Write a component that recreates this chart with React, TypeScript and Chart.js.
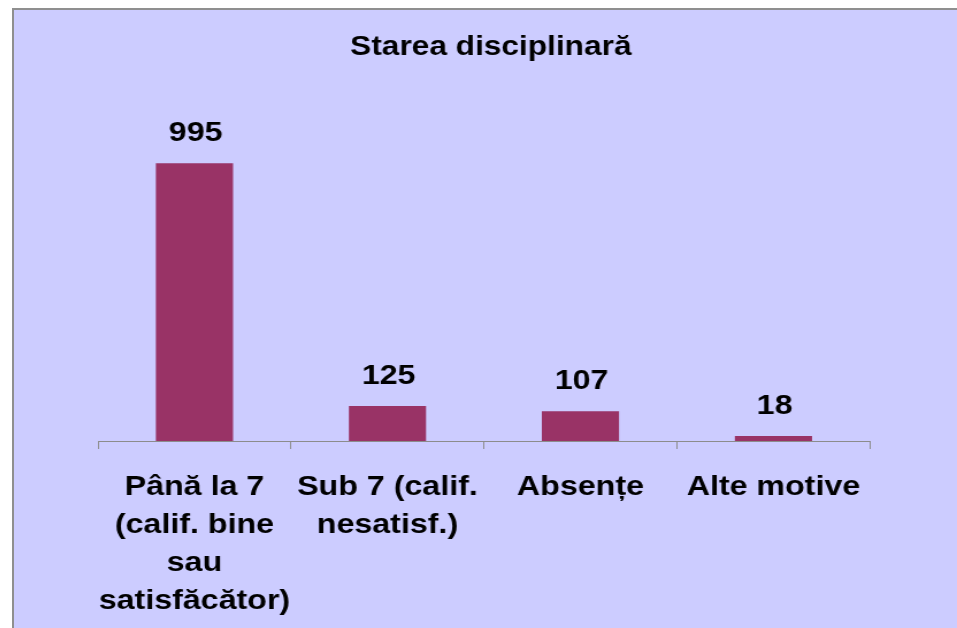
import React, { useEffect, useRef } from "react";
import { Chart, registerables } from "chart.js";

Chart.register(...registerables);

const TITLE = "Starea disciplinară";
const categories: string[][] = [
  ["Până la 7", "(calif. bine", "sau", "satisfăcător)"],
  ["Sub 7 (calif.", "nesatisf.)"],
  ["Absențe"],
  ["Alte motive"],
];
const values: number[] = [995, 125, 107, 18];
const Y_MAX = 1200;

const FONT = "'Liberation Sans', Arial, Helvetica, sans-serif";
const BAR_COLOR = "#993366";
const BG_COLOR = "#CCCCFF";
const AXIS_COLOR = "#8c8c8c";

// The reference picture is horizontally stretched; the chart is drawn narrower and stretched by CSS.
const STRETCH = 1.15;
const OUTER_W = 943;
const OUTER_H = 618;
const INNER_W = Math.round(OUTER_W / STRETCH);

const valueLabelPlugin = {
  id: "valueLabels",
  afterDatasetsDraw(chart: any) {
    const ctx = chart.ctx;
    const meta = chart.getDatasetMeta(0);
    ctx.save();
    ctx.font = `bold 28px ${FONT}`;
    ctx.fillStyle = "#000000";
    ctx.textAlign = "center";
    ctx.textBaseline = "alphabetic";
    meta.data.forEach((bar: any, i: number) => {
      ctx.fillText(String(values[i]), bar.x + 1, bar.y - 22);
    });
    ctx.restore();
  },
};

const titlePlugin = {
  id: "customTitle",
  afterDraw(chart: any) {
    const ctx = chart.ctx;
    const area = chart.chartArea;
    ctx.save();
    ctx.font = `bold 27.5px ${FONT}`;
    ctx.fillStyle = "#000000";
    ctx.textAlign = "center";
    ctx.textBaseline = "alphabetic";
    ctx.fillText(TITLE, (area.left + area.right) / 2 + 6, area.top - 51);
    ctx.restore();
  },
};

export default function App() {
  const canvasRef = useRef<HTMLCanvasElement | null>(null);

  useEffect(() => {
    if (!canvasRef.current) return;
    const chart = new Chart(canvasRef.current, {
      type: "bar",
      data: {
        labels: categories as any,
        datasets: [
          {
            data: values,
            backgroundColor: BAR_COLOR,
            borderWidth: 0,
            barPercentage: 0.4,
            categoryPercentage: 1,
          },
        ],
      },
      options: {
        animation: false,
        responsive: true,
        maintainAspectRatio: false,
        devicePixelRatio: 1,
        layout: { padding: { left: 73, right: 75.7, top: 96, bottom: 0 } },
        plugins: {
          legend: { display: false },
          title: { display: false },
          tooltip: { enabled: false },
        },
        scales: {
          y: {
            display: false,
            min: 0,
            max: Y_MAX,
          },
          x: {
            afterFit(scale: any) {
              scale.height = 187;
            },
            grid: {
              display: true,
              drawOnChartArea: false,
              drawTicks: true,
              tickLength: 8,
              color: AXIS_COLOR,
              offset: true,
              lineWidth: 1,
            },
            border: { display: true, color: AXIS_COLOR, width: 1 },
            ticks: {
              color: "#000000",
              font: { family: FONT, size: 28, weight: "bold", lineHeight: 38 / 28 },
              padding: 19,
              maxRotation: 0,
              minRotation: 0,
              autoSkip: false,
            },
          },
        },
      },
      plugins: [valueLabelPlugin, titlePlugin],
    } as any);
    return () => chart.destroy();
  }, []);

  return (
    <>
      <style>{"html,body{margin:0;padding:0;overflow:hidden;background:#ffffff}"}</style>
      <div
        style={{
          position: "absolute",
          left: 12,
          top: 8,
          width: 945,
          height: 620,
          boxSizing: "border-box",
          borderLeft: "2px solid #8f8f8f",
          borderTop: "2px solid #8f8f8f",
          background: BG_COLOR,
          overflow: "hidden",
        }}
      >
        <div
          style={{
            position: "relative",
            width: INNER_W,
            height: OUTER_H,
            transform: `scaleX(${STRETCH})`,
            transformOrigin: "0 0",
          }}
        >
          <canvas ref={canvasRef} />
        </div>
      </div>
    </>
  );
}
